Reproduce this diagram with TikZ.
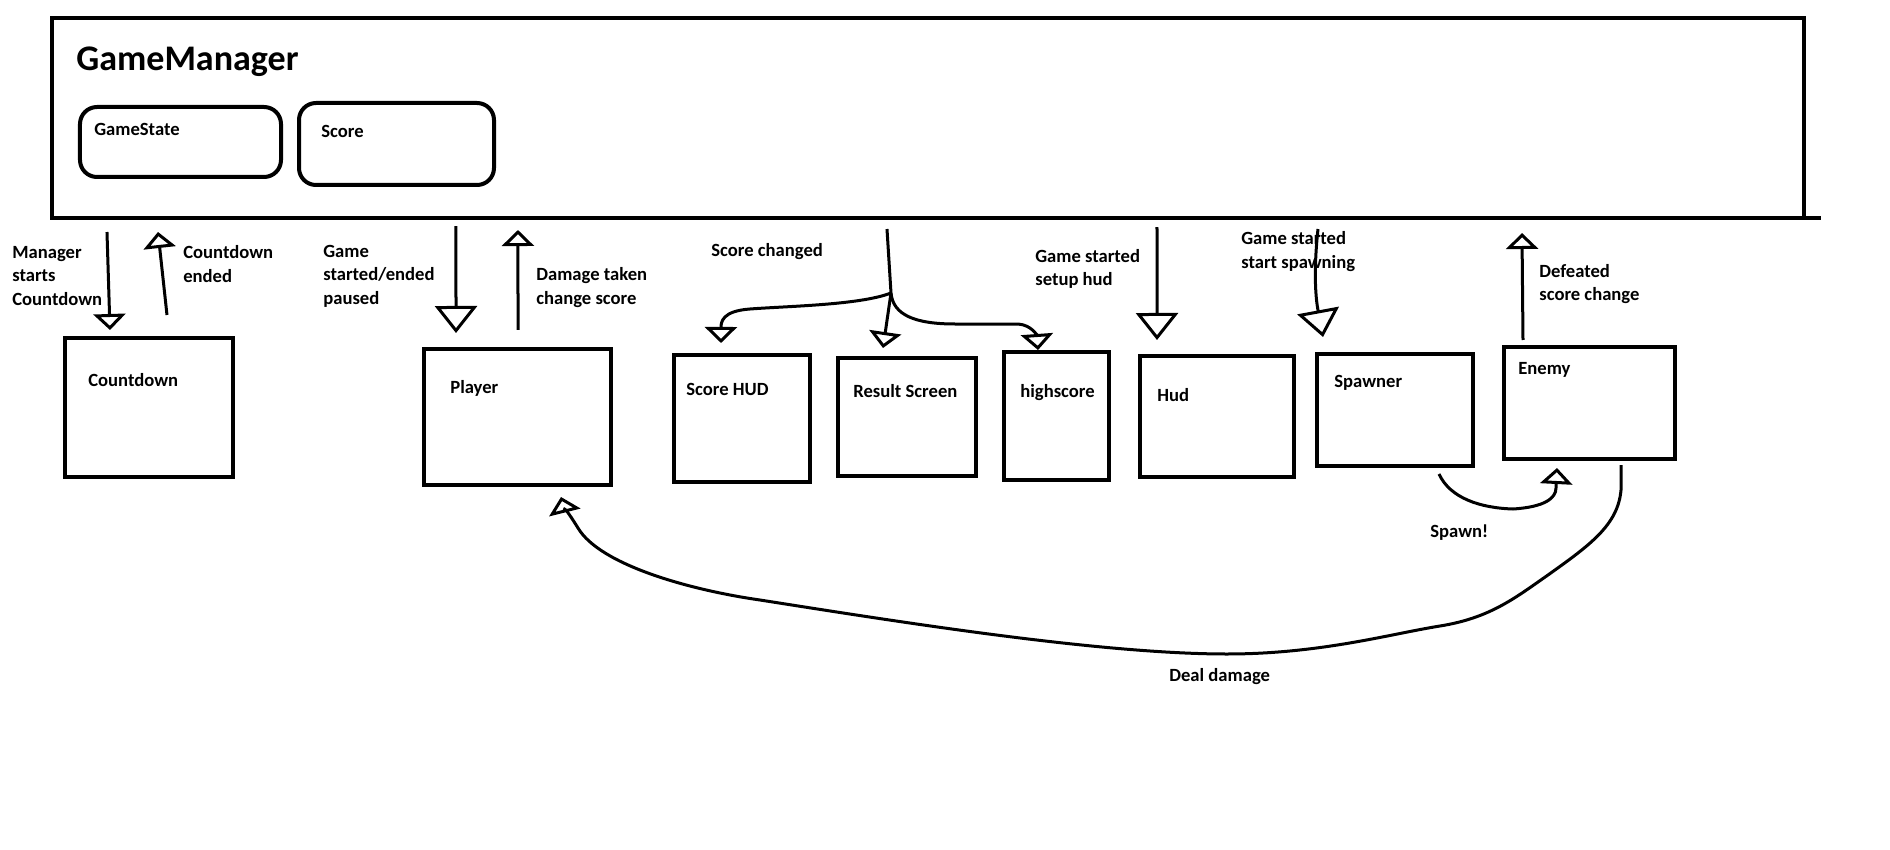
\documentclass[tikz,border=0pt]{standalone}
\usepackage{fontspec}
\setmainfont{Carlito}
\usetikzlibrary{arrows.meta, calc, positioning}

\begin{document}
\begin{tikzpicture}[
    x=0.2mm, y=-0.2mm,
    box/.style    ={draw, line width=0.8mm, inner sep=0pt, outer sep=0pt},
    part/.style   ={box, rounded corners=3.4mm},
    txt/.style    ={font=\fontsize{10.6}{13.1}\selectfont\bfseries, inner sep=0pt,
                    align=left, anchor=base west},
    head/.style   ={font=\fontsize{20.5}{24}\selectfont\bfseries, inner sep=0pt,
                    anchor=base west},
    flow/.style   ={line width=0.6mm, -{Triangle[open, length=3.2mm, width=6.4mm]}},
    bigflow/.style={line width=0.6mm, -{Triangle[open, length=5.4mm, width=8.4mm]}},
]
\useasboundingbox (0,0) rectangle (1890,850);
% manager frame with its two parts
\node[box, minimum width=350.4mm, minimum height=40mm] (gm) at (928,118) {};
\draw[line width=0.8mm] (gm.south east) -- ++(17,0);
\node[head] (gmt) at (76,71) {GameManager};
\node[part, minimum width=40.2mm, minimum height=14mm] (gs) at (180.5,142) {};
\node[txt] (gst) at ($(gs.north west)+(14,29)$) {GameState};
\node[part, minimum width=39mm, minimum height=16.4mm] (sc) at (396.5,144) {};
\node[txt] (sct) at ($(sc.north west)+(22,35)$) {Score};
% components below
\node[box, minimum width=33.6mm, minimum height=27.8mm] (cd) at (149,407.5) {};
\node[txt] (cdt) at ($(cd.north west)+(23,49)$) {Countdown};
\node[box, minimum width=37.4mm, minimum height=27.2mm] (pl) at (517.5,417) {};
\node[txt] (plt) at ($(pl.north west)+(26,44)$) {Player};
\node[box, minimum width=27.2mm, minimum height=25.4mm] (shud) at (742,418.5) {};
\node[txt] (shudt) at ($(shud.north west)+(12,40)$) {Score HUD};
\node[box, minimum width=27.6mm, minimum height=23.6mm] (res) at (907,417) {};
\node[txt] (rest) at ($(res.north west)+(15,39)$) {Result Screen};
\node[box, minimum width=21mm, minimum height=25.6mm] (hs) at (1056.5,416) {};
\node[txt] (hst) at ($(hs.north west)+(16,45)$) {highscore};
\node[box, minimum width=30.8mm, minimum height=24.2mm] (hud) at (1217,416.5) {};
\node[txt] (hudt) at ($(hud.north west)+(17,46)$) {Hud};
\node[box, minimum width=31.2mm, minimum height=22.4mm] (sp) at (1395,410) {};
\node[txt] (spt) at ($(sp.north west)+(17,34)$) {Spawner};
\node[box, minimum width=34.2mm, minimum height=22.4mm] (en) at (1589.5,403) {};
\node[txt] (ent) at ($(en.north west)+(14,28)$) {Enemy};
% message labels (base = last line)
\node[txt] (l-start) at (12,305) {Manager\\starts\\Countdown};
\node[txt] (l-cdend) at (183,282) {Countdown\\ended};
\node[txt] (l-game) at (323,304) {Game\\started/ended\\paused};
\node[txt] (l-dmg) at (536,304) {Damage taken\\change score};
\node[txt] (l-score) at (711,257) {Score changed};
\node[txt] (l-hud) at (1035,286) {Game started\\setup hud};
\node[txt] (l-spawn) at (1241,268) {Game started\\start spawning};
\node[txt] (l-def) at (1539,301) {Defeated\\score change};
\node[txt] (l-spawned) at (1430,537) {Spawn!};
\node[txt] (l-deal) at (1169,681) {Deal damage};
% manager <-> countdown, player
\draw[flow] ($(gm.south west)+(55,14)$) -- ($(cd.north west)+(45,-8)$);
\draw[flow] ($(cd.north west)+(102,-23)$) -- ($(gm.south west)+(106,14)$);
\draw[bigflow] ($(gm.south west)+(404,8)$) -- ($(pl.north west)+(32,-16)$);
\draw[flow] ($(pl.north west)+(94,-19)$) -- ($(gm.south west)+(466,12)$);
% score fans out to three listeners
\coordinate (fork) at (891,293);
\draw[line width=0.6mm] ($(gm.south west)+(835,11)$) -- (fork);
\draw[flow] (fork) .. controls (860,305) and (790,306) .. (750,309)
    .. controls (722,311) and (721,322) .. ($(shud.north west)+(47,-12)$);
\draw[flow] (fork) -- ($(res.north west)+(45,-10)$);
\draw[flow] (fork) .. controls (893,315) and (915,324) .. (955,324) -- (1018,324)
    .. controls (1032,325) and (1037,336) .. ($(hs.north west)+(34,-2)$);
% game start
\draw[bigflow] ($(gm.south west)+(1105,9)$) -- ($(hud.north west)+(17,-16)$);
\draw[bigflow] ($(gm.south west)+(1266,11)$) .. controls (1312,285) and (1318,310)
    .. ($(sp.north west)+(6,-17)$);
\draw[flow] ($(en.north west)+(19,-7)$) -- ($(gm.south west)+(1470,15)$);
% spawner -> enemy
\draw[flow] ($(sp.south west)+(122,8)$) .. controls (1450,498) and (1480,508) .. (1513,509)
    .. controls (1545,507) and (1556,498) .. (1556,488) -- ($(en.south west)+(53,9)$);
% enemy -> player
\coordinate (dmg-a) at ($(en.south east)+(-54,6)$);
\coordinate (dmg-b) at ($(pl.south west)+(137,12)$);
\draw[flow] (dmg-a) -- ++(0,25)
    .. controls (1618,525) and (1590,545) .. (1548,575)
    .. controls (1515,598) and (1490,618) .. (1440,626)
    .. controls (1390,634) and (1320,654) .. (1227,654)
    .. controls (1100,654) and (900,622) .. (760,600)
    .. controls (690,590) and (600,565) .. (578,528)
    .. controls (568,512) and (563,505) .. (dmg-b);
\end{tikzpicture}
\end{document}
